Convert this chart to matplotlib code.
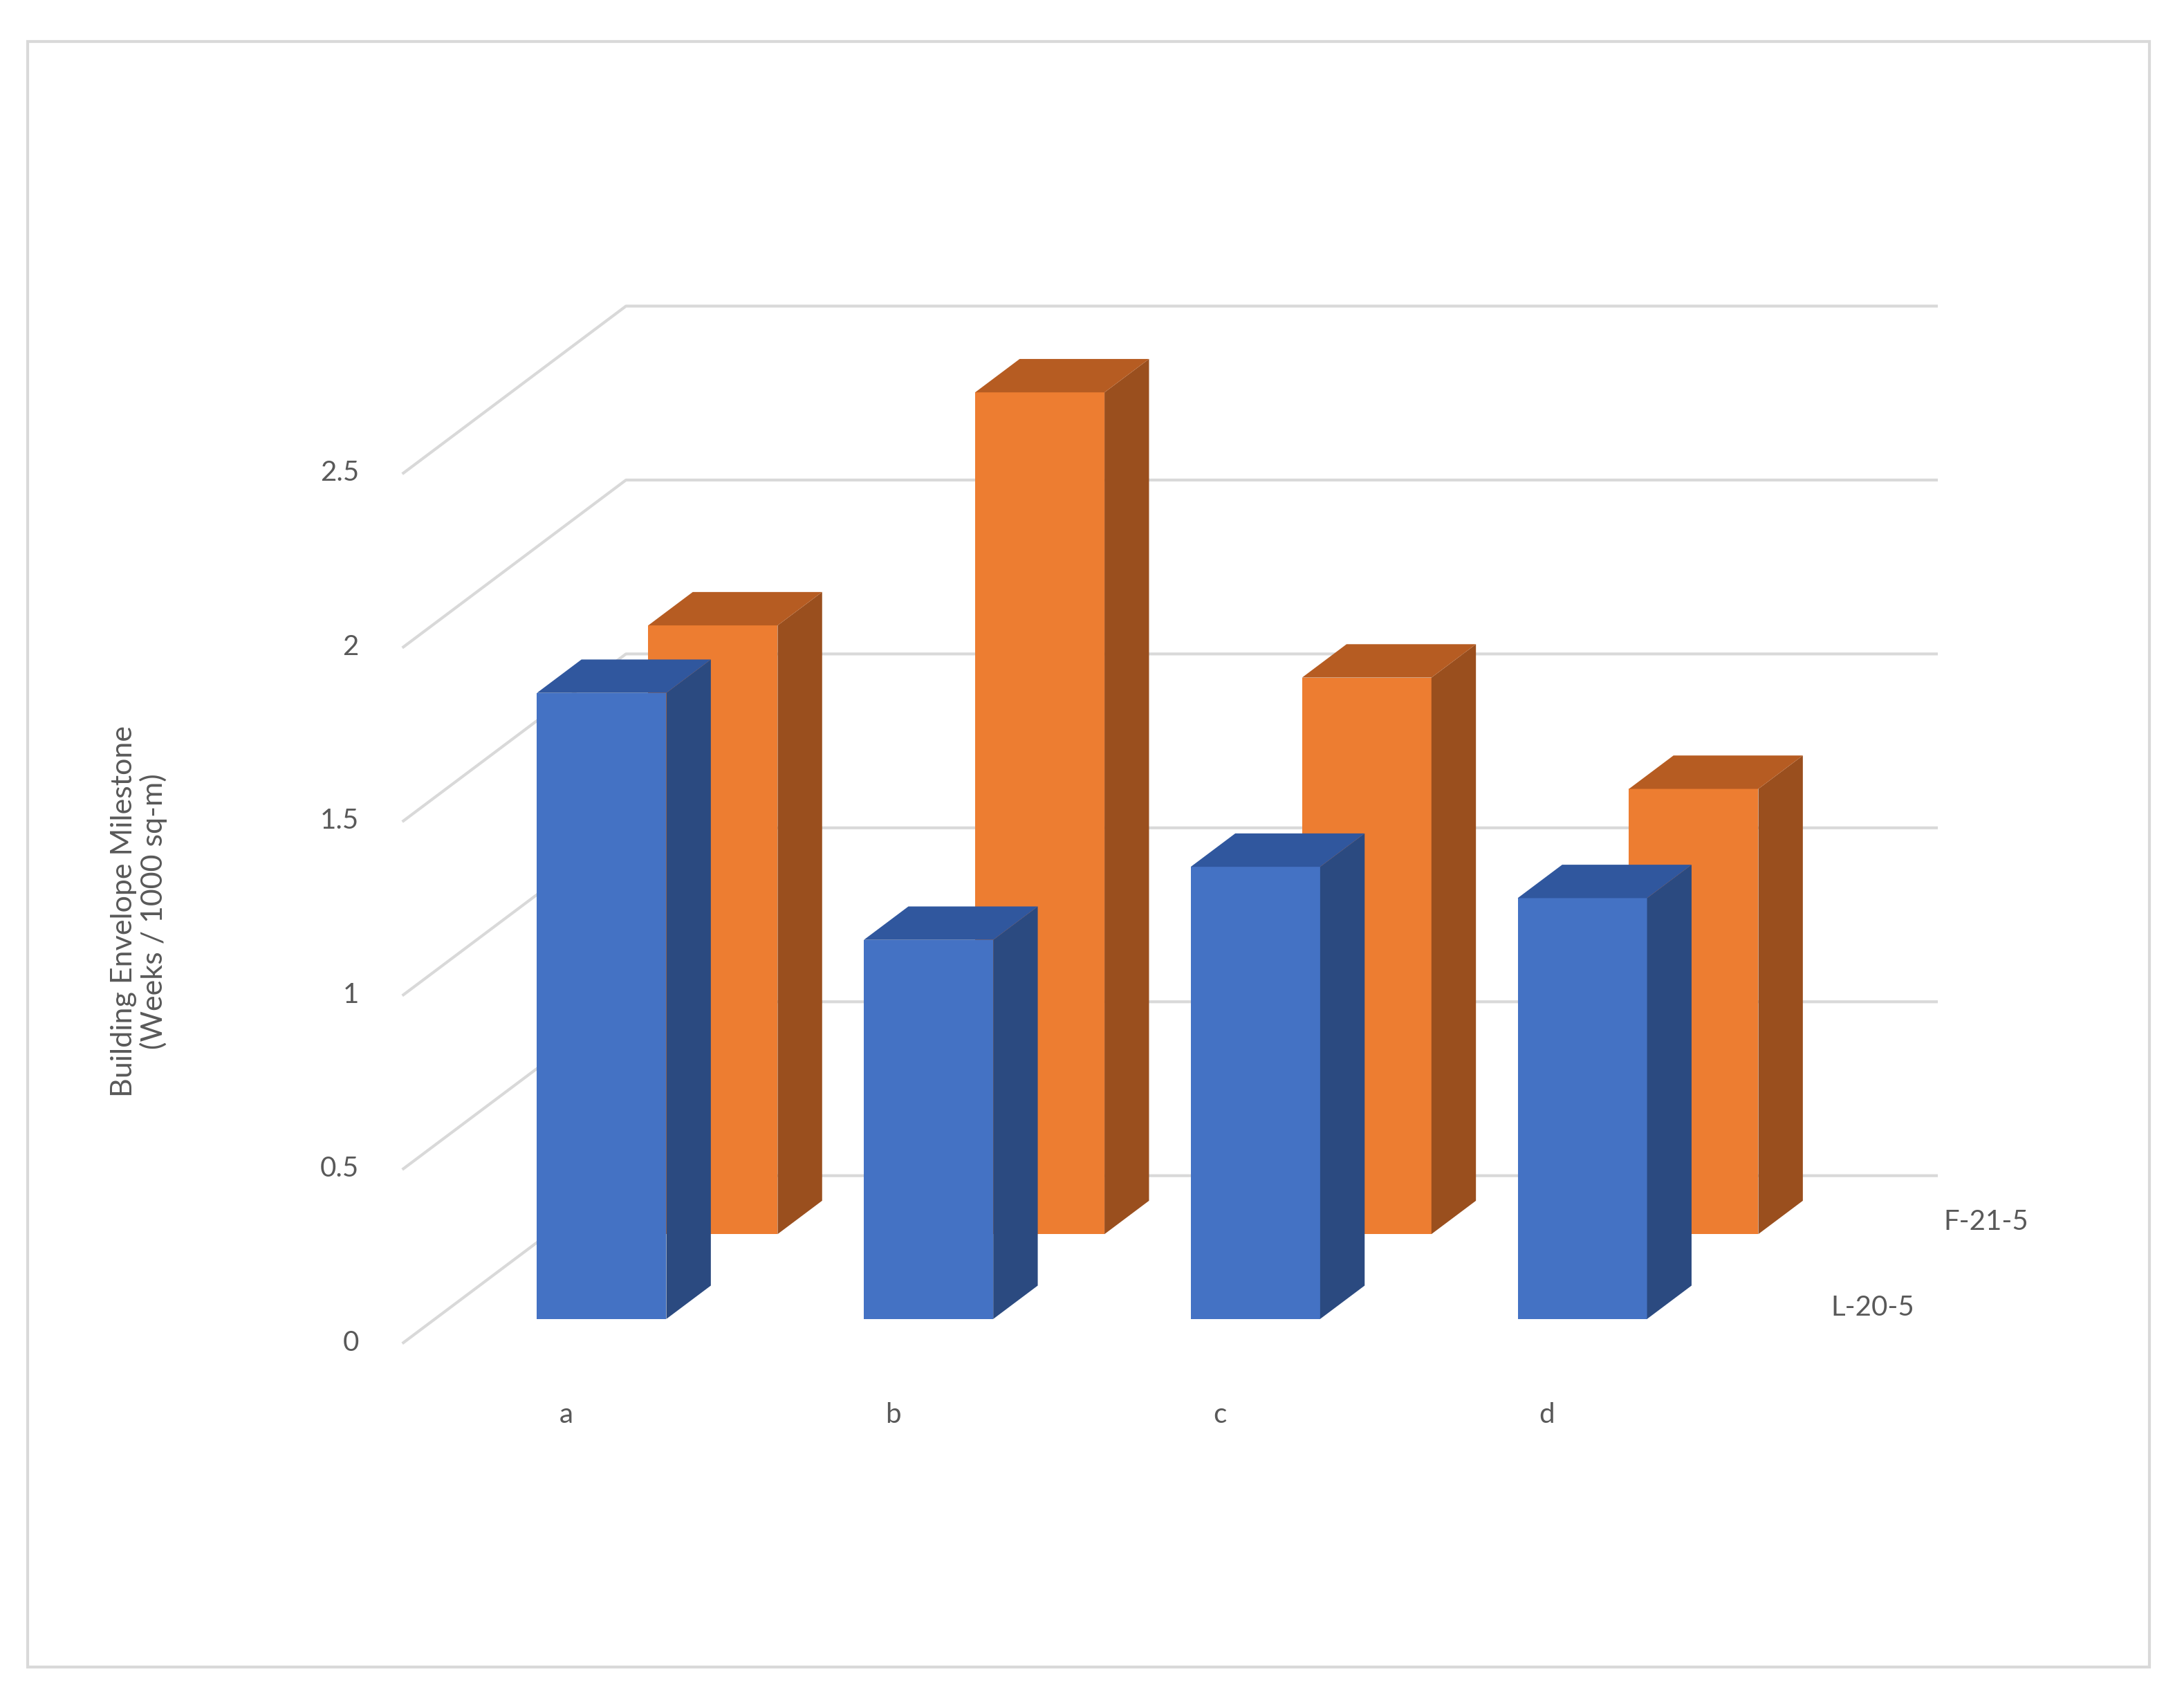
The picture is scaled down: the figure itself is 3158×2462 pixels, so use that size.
import matplotlib
matplotlib.use('Agg')
import matplotlib.pyplot as plt
from matplotlib.patches import Polygon, Rectangle

## chart data
categories = ['a', 'b', 'c', 'd']
series_names = ['L-20-5', 'F-21-5']
l20 = [1.80, 1.09, 1.30, 1.21]
f21 = [1.75, 2.42, 1.60, 1.28]
yticks = [0, 0.5, 1, 1.5, 2, 2.5]
ylabel = 'Building Envelope Milestone\n(Weeks / 1000 sq-m)'

## layout in reference pixel units (image ~1570 x 1224)
W, H = 1570, 1224
scale = 250.0          # px per unit
x_wall0, y_floor0 = 290, 965     # front-left of the floor
depth_dx, depth_dy = 160, -120   # full depth offset
row_dx, row_dy = 80, -61         # offset between series rows
bar_x0, bar_gap, bar_w = 386, 235, 93
side_dx, side_dy = 32, -24
front_base = 948

cols = {0: ('#4472C4', '#2B4A80', '#30579E'),
        1: ('#ED7D31', '#9A4F1E', '#B65C22')}
text_col = '#595959'
plt.rcParams['font.family'] = ['Lato', 'DejaVu Sans']

fig = plt.figure(figsize=(31.58, 24.62), dpi=100)
ax = fig.add_axes([0, 0, 1, 1])
ax.set_xlim(0, W)
ax.set_ylim(H, 0)
ax.axis('off')

# outer border
ax.add_patch(Rectangle((20, 30), 1525, 1168, fill=False, ec='#D9D9D9', lw=3))

# gridlines (side wall + back wall)
for v in yticks:
    yf = y_floor0 - scale * v
    xb, yb = x_wall0 + depth_dx, yf + depth_dy
    ax.plot([x_wall0, xb, 1392], [yf, yb, yb], color='#D9D9D9', lw=3, zorder=1)
    ax.text(258, yf, f'{v:g}', ha='right', va='center', fontsize=29, color=text_col)

def bar(i, row, v):
    front, side, top = cols[row]
    x0 = bar_x0 + i * bar_gap + row * row_dx
    yb = front_base + row * row_dy
    yt = yb - scale * v
    z = 3 - row
    ax.add_patch(Polygon([(x0, yb), (x0 + bar_w, yb), (x0 + bar_w, yt), (x0, yt)],
                         closed=True, fc=front, ec='none', zorder=z))
    ax.add_patch(Polygon([(x0 + bar_w, yb), (x0 + bar_w + side_dx, yb + side_dy),
                          (x0 + bar_w + side_dx, yt + side_dy), (x0 + bar_w, yt)],
                         closed=True, fc=side, ec='none', zorder=z))
    ax.add_patch(Polygon([(x0, yt), (x0 + bar_w, yt), (x0 + bar_w + side_dx, yt + side_dy),
                          (x0 + side_dx, yt + side_dy)],
                         closed=True, fc=top, ec='none', zorder=z))

for i in range(len(categories)):
    bar(i, 1, f21[i])
for i in range(len(categories)):
    bar(i, 0, l20[i])

for i, c in enumerate(categories):
    ax.text(bar_x0 + i * bar_gap + 21, 1017, c, ha='center', va='center',
            fontsize=29, color=text_col)

ax.text(1316, 940, series_names[0], ha='left', va='center', fontsize=29, color=text_col)
ax.text(1397, 878, series_names[1], ha='left', va='center', fontsize=29, color=text_col)

ax.text(100, 655, ylabel, rotation=90, ha='center', va='center',
        fontsize=31, color=text_col, linespacing=1.1)

fig.savefig('out.png', dpi=100)
